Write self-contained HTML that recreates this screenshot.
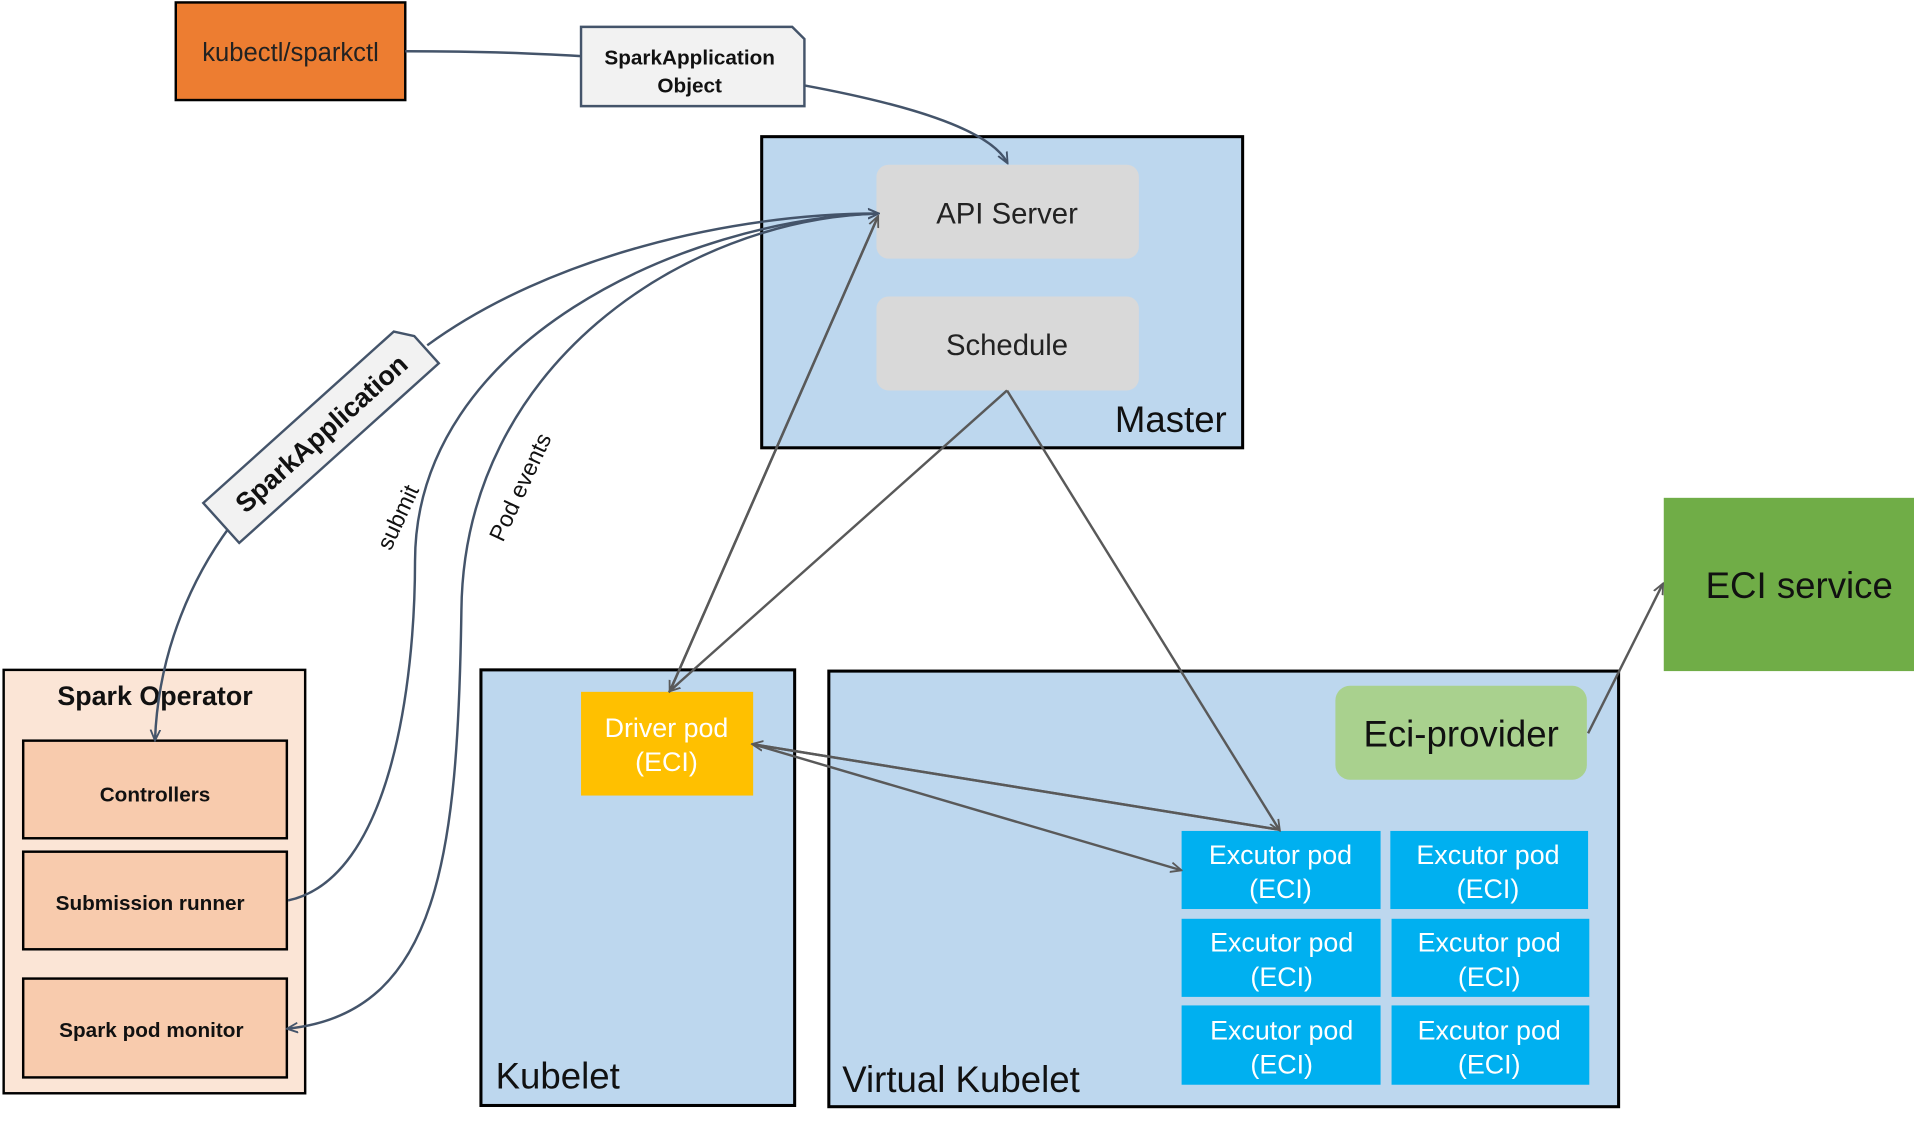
<!DOCTYPE html>
<html><head><meta charset="utf-8"><style>
html,body{margin:0;padding:0;background:#fff;overflow:hidden}
svg{display:block}
text{font-family:"Liberation Sans",sans-serif}
</style></head><body>
<svg width="1914" height="1125" viewBox="0 0 1568 922" preserveAspectRatio="none" xmlns="http://www.w3.org/2000/svg">
<defs>
<marker id="a" markerWidth="10" markerHeight="10" refX="8" refY="5" orient="auto" markerUnits="userSpaceOnUse"><path d="M0,1 L9,5 L0,9" fill="none" stroke="#44546a" stroke-width="1.5"/></marker>
<marker id="g" markerWidth="10" markerHeight="10" refX="8" refY="5" orient="auto" markerUnits="userSpaceOnUse"><path d="M0,1 L9,5 L0,9" fill="none" stroke="#595959" stroke-width="1.5"/></marker>
</defs>
<rect x="144" y="2" width="188" height="80" fill="#ed7d31" stroke="#000" stroke-width="2"/>
<text x="238" y="50" font-size="21" text-anchor="middle" fill="#222">kubectl/sparkctl</text>
<path d="M476,22 L649,22 L659,32 L659,87 L476,87 Z" fill="#f2f2f2" stroke="#44546a" stroke-width="2"/>
<text x="565" y="53" font-size="17" font-weight="bold" text-anchor="middle" fill="#111">SparkApplication</text>
<text x="565" y="76" font-size="17" font-weight="bold" text-anchor="middle" fill="#111">Object</text>
<path d="M332,42 C400,42 440,44 476,46" fill="none" stroke="#44546a" stroke-width="2"/>
<rect x="624" y="112" width="394" height="255" fill="#bdd7ee" stroke="#000" stroke-width="2.5"/>
<path d="M659,70 C740,85 810,105 825,133" fill="none" stroke="#44546a" stroke-width="2" marker-end="url(#a)"/>
<rect x="718" y="135" width="215" height="77" rx="10" fill="#d9d9d9"/>
<text x="825" y="183" font-size="24" text-anchor="middle" fill="#222">API Server</text>
<rect x="718" y="243" width="215" height="77" rx="10" fill="#d9d9d9"/>
<text x="825" y="291" font-size="24" text-anchor="middle" fill="#222">Schedule</text>
<text x="1005" y="354" font-size="30" text-anchor="end" fill="#111">Master</text>
<rect x="1363" y="408" width="205" height="142" fill="#70ad47"/>
<text x="1474" y="490" font-size="30" text-anchor="middle" fill="#111">ECI service</text>
<rect x="3" y="549" width="247" height="347" fill="#fbe5d6" stroke="#000" stroke-width="2"/>
<text x="127" y="578" font-size="22" font-weight="bold" text-anchor="middle" fill="#111">Spark Operator</text>
<rect x="19" y="607" width="216" height="80" fill="#f8cbad" stroke="#000" stroke-width="2"/>
<text x="127" y="657" font-size="17" font-weight="bold" text-anchor="middle" fill="#111">Controllers</text>
<rect x="19" y="698" width="216" height="80" fill="#f8cbad" stroke="#000" stroke-width="2"/>
<text x="123" y="746" font-size="17" font-weight="bold" text-anchor="middle" fill="#111">Submission runner</text>
<rect x="19" y="802" width="216" height="81" fill="#f8cbad" stroke="#000" stroke-width="2"/>
<text x="124" y="850" font-size="17" font-weight="bold" text-anchor="middle" fill="#111">Spark pod monitor</text>
<rect x="394" y="549" width="257" height="357" fill="#bdd7ee" stroke="#000" stroke-width="2.5"/>
<text x="406" y="892" font-size="30" fill="#111">Kubelet</text>
<rect x="476" y="567" width="141" height="85" fill="#ffc000"/>
<text x="546" y="604" font-size="22" text-anchor="middle" fill="#fff">Driver pod</text>
<text x="546" y="632" font-size="22" text-anchor="middle" fill="#fff">(ECI)</text>
<rect x="679" y="550" width="647" height="357" fill="#bdd7ee" stroke="#000" stroke-width="2.5"/>
<text x="690" y="895" font-size="30" fill="#111">Virtual Kubelet</text>
<rect x="1094" y="562" width="206" height="77" rx="12" fill="#a9d18e"/>
<text x="1197" y="612" font-size="30" text-anchor="middle" fill="#111">Eci-provider</text>
<g font-size="22" text-anchor="middle" fill="#fff">
<rect x="968" y="681" width="163" height="64" fill="#00b0f0"/><text x="1049" y="708">Excutor pod</text><text x="1049" y="736">(ECI)</text>
<rect x="1139" y="681" width="162" height="64" fill="#00b0f0"/><text x="1219" y="708">Excutor pod</text><text x="1219" y="736">(ECI)</text>
<rect x="968" y="753" width="163" height="64" fill="#00b0f0"/><text x="1050" y="780">Excutor pod</text><text x="1050" y="808">(ECI)</text>
<rect x="1140" y="753" width="162" height="64" fill="#00b0f0"/><text x="1220" y="780">Excutor pod</text><text x="1220" y="808">(ECI)</text>
<rect x="968" y="824" width="163" height="65" fill="#00b0f0"/><text x="1050" y="852">Excutor pod</text><text x="1050" y="880">(ECI)</text>
<rect x="1140" y="824" width="162" height="65" fill="#00b0f0"/><text x="1220" y="852">Excutor pod</text><text x="1220" y="880">(ECI)</text>
</g>
<g fill="none" stroke="#595959" stroke-width="2">
<line x1="719" y1="178" x2="549" y2="566" marker-end="url(#g)"/>
<line x1="549" y1="566" x2="719" y2="178" marker-end="url(#g)"/>
<line x1="825" y1="320" x2="549" y2="566" marker-end="url(#g)"/>
<line x1="825" y1="320" x2="1048" y2="680" marker-end="url(#g)"/>
<line x1="617" y1="610" x2="1048" y2="680"/>
<line x1="1048" y1="680" x2="617" y2="610" marker-end="url(#g)"/>
<line x1="617" y1="610" x2="967" y2="713" marker-end="url(#g)"/>
<line x1="1301" y1="601" x2="1362" y2="479" marker-end="url(#g)"/>
</g>
<g fill="none" stroke="#44546a" stroke-width="2">
<path d="M350,283 C450,210 600,175 719,175" marker-end="url(#a)"/>
<path d="M188,432 C160,470 130,530 127,606" marker-end="url(#a)"/>
<path d="M236,738 C320,720 340,560 340,460 C340,280 560,180 719,175" marker-end="url(#a)"/>
<path d="M719,175 C560,180 380,300 378,500 C375,700 360,830 236,843" marker-end="url(#a)"/>
</g>
<g transform="translate(263,355) rotate(-42)">
<path d="M-110,-22 L100,-22 L110,-8 L110,22 L-110,22 Z" fill="#f2f2f2" stroke="#44546a" stroke-width="2"/>
<text x="0" y="8" font-size="22" font-weight="bold" text-anchor="middle" fill="#111">SparkApplication</text>
</g>
<text transform="translate(320,452) rotate(-65)" font-size="19" fill="#111">submit</text>
<text transform="translate(412,445) rotate(-65)" font-size="19" fill="#111">Pod events</text>
</svg>
</body></html>
